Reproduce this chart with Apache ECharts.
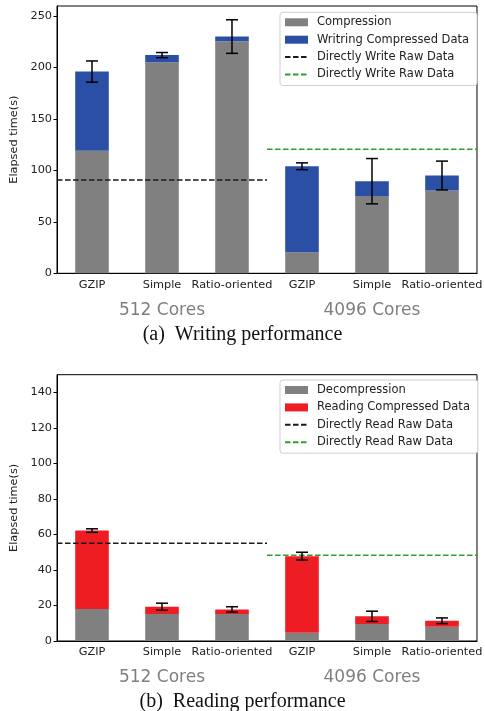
<!DOCTYPE html>
<html><head><meta charset="utf-8">
<script src="https://cdn.jsdelivr.net/npm/echarts@6/dist/echarts.min.js"></script>
<style>html,body{margin:0;padding:0;background:#fff}#c{width:485px;height:711px}</style>
</head><body><div id="c"></div>
<script>
// ---- data ----
const categories = ['GZIP', 'Simple', 'Ratio-oriented', 'GZIP', 'Simple', 'Ratio-oriented'];
const groups = ['512 Cores', '4096 Cores'];

const writeCompression = [119, 205, 225.5, 20.5, 75, 80.5];
const writeIO = [77, 7, 4.5, 83.5, 14.5, 14.5];
const writeErr = [10.3, 2.5, 16.3, 3.3, 22, 14];
const writeRaw512 = 90.7;
const writeRaw4096 = 120.5;
const writeYTicks = [0, 50, 100, 150, 200, 250];

const readDecompression = [18, 15.2, 15.2, 4.7, 9.6, 8.0];
const readIO = [44.2, 4.1, 2.6, 43.1, 4.3, 3.4];
const readErr = [1, 2, 1.5, 2.2, 2.9, 1.6];
const readRaw512 = 55;
const readRaw4096 = 48.3;
const readYTicks = [0, 20, 40, 60, 80, 100, 120, 140];

// ---- helpers ----
const FONT = 'DejaVu Sans';
const GRAY = '#808080', BLUE = '#2a4fa5', RED = '#ee1d24', GREEN = '#2ca02c', BLACK = '#1a1a1a';

function errData(a, b, e) { return a.map((v, i) => [i, v + b[i], e[i]]); }
function errRender(params, api) {
  const i = api.value(0), c = api.value(1), e = api.value(2);
  const top = api.coord([i, c + e]);
  const bot = api.coord([i, c - e]);
  const hw = 6;
  const st = { stroke: '#000', lineWidth: 1.5 };
  return { type: 'group', children: [
    { type: 'line', shape: { x1: top[0], y1: top[1], x2: bot[0], y2: bot[1] }, style: st },
    { type: 'line', shape: { x1: top[0] - hw, y1: top[1], x2: top[0] + hw, y2: top[1] }, style: st },
    { type: 'line', shape: { x1: bot[0] - hw, y1: bot[1], x2: bot[0] + hw, y2: bot[1] }, style: st }
  ]};
}
function catAxis(g) {
  return { type: 'category', gridIndex: g, data: categories, position: 'bottom',
    axisLine: { lineStyle: { color: '#000', width: 1 } },
    axisTick: { alignWithLabel: true, length: 3.5, lineStyle: { color: '#000' } },
    axisLabel: { fontFamily: FONT, fontSize: 11.3, color: '#222', margin: 6, interval: 0 } };
}
function groupAxis(g) {
  return { type: 'category', gridIndex: g, data: groups, position: 'bottom',
    axisLine: { show: false }, axisTick: { show: false },
    axisLabel: { fontFamily: FONT, fontSize: 17, color: '#7f7f7f', margin: 28.5 } };
}
function fracAxis(g) {
  return { type: 'value', gridIndex: g, min: 0, max: 1, show: false, position: 'top' };
}
function yAxis(g, max, ticks) {
  return { type: 'value', gridIndex: g, min: 0, max: max,
    name: 'Elapsed time(s)', nameLocation: 'middle', nameGap: 36,
    nameTextStyle: { fontFamily: FONT, fontSize: 11.3, color: '#222' },
    axisLine: { show: true, lineStyle: { color: '#000' } },
    axisTick: { show: true, length: 3.5, lineStyle: { color: '#000' }, customValues: ticks },
    axisLabel: { fontFamily: FONT, fontSize: 11.3, color: '#222', margin: 5, customValues: ticks },
    splitLine: { show: false } };
}
function dashed(name, xi, yi, x0, x1, v, color) {
  return { name: name, type: 'line', xAxisIndex: xi, yAxisIndex: yi, data: [[x0, v], [x1, v]],
    symbol: 'none', lineStyle: { type: [5.5, 2.5], width: 1.5, color: color }, itemStyle: { color: color },
    silent: true, z: 5 };
}
function lineItem(name) { return { name: name, itemStyle: { opacity: 0 } }; }
function legend(top, items) {
  return { orient: 'vertical', left: 280, top: top, itemWidth: 23, itemHeight: 8, itemGap: 5.4,
    padding: [4, 8, 5, 4], borderColor: '#cfcfcf', borderWidth: 1, borderRadius: 3, backgroundColor: '#fff',
    textStyle: { fontFamily: FONT, fontSize: 11.5, color: '#222', padding: [0, 0, 0, 4] },
    data: items };
}

const wRawA = 'Directly Write Raw Data', wRawB = 'Directly Write Raw Data\u200b';
const rRawA = 'Directly Read Raw Data', rRawB = 'Directly Read Raw Data\u200b';

const option = {
  animation: false,
  backgroundColor: '#fff',
  title: [
    { text: '(a)  Writing performance', left: 'center', top: 320,
      textStyle: { fontFamily: 'Liberation Serif', fontSize: 20, fontWeight: 'normal', color: '#111' } },
    { text: '(b)  Reading performance', left: 'center', top: 687,
      textStyle: { fontFamily: 'Liberation Serif', fontSize: 20, fontWeight: 'normal', color: '#111' } }
  ],
  grid: [
    { left: 57, right: 3, top: 6, height: 267.3, show: true, borderColor: '#000', borderWidth: 1 },
    { left: 57, right: 3, top: 374.7, height: 266.3, show: true, borderColor: '#000', borderWidth: 1 }
  ],
  legend: [
    legend(12.3, [{ name: 'Compression', icon: 'rect' }, { name: 'Writring Compressed Data', icon: 'rect' }, lineItem(wRawA), lineItem(wRawB)]),
    legend(380, [{ name: 'Decompression', icon: 'rect' }, { name: 'Reading Compressed Data', icon: 'rect' }, lineItem(rRawA), lineItem(rRawB)])
  ],
  xAxis: [catAxis(0), groupAxis(0), fracAxis(0), catAxis(1), groupAxis(1), fracAxis(1)],
  yAxis: [yAxis(0, 259.7, writeYTicks), yAxis(1, 150, readYTicks)],
  series: [
    { name: 'Compression', type: 'bar', stack: 'w', xAxisIndex: 0, yAxisIndex: 0, barWidth: '48%',
      data: writeCompression, itemStyle: { color: GRAY } },
    { name: 'Writring Compressed Data', type: 'bar', stack: 'w', xAxisIndex: 0, yAxisIndex: 0, barWidth: '48%',
      data: writeIO, itemStyle: { color: BLUE } },
    { type: 'custom', xAxisIndex: 0, yAxisIndex: 0, data: errData(writeCompression, writeIO, writeErr),
      renderItem: errRender, z: 10, silent: true },
    dashed(wRawA, 2, 0, 0, 0.5, writeRaw512, BLACK),
    dashed(wRawB, 2, 0, 0.5, 1, writeRaw4096, GREEN),

    { name: 'Decompression', type: 'bar', stack: 'r', xAxisIndex: 3, yAxisIndex: 1, barWidth: '48%',
      data: readDecompression, itemStyle: { color: GRAY } },
    { name: 'Reading Compressed Data', type: 'bar', stack: 'r', xAxisIndex: 3, yAxisIndex: 1, barWidth: '48%',
      data: readIO, itemStyle: { color: RED } },
    { type: 'custom', xAxisIndex: 3, yAxisIndex: 1, data: errData(readDecompression, readIO, readErr),
      renderItem: errRender, z: 10, silent: true },
    dashed(rRawA, 5, 1, 0, 0.5, readRaw512, BLACK),
    dashed(rRawB, 5, 1, 0.5, 1, readRaw4096, GREEN)
  ]
};
echarts.init(document.getElementById('c'), null, { renderer: 'canvas' }).setOption(option);
</script></body></html>
